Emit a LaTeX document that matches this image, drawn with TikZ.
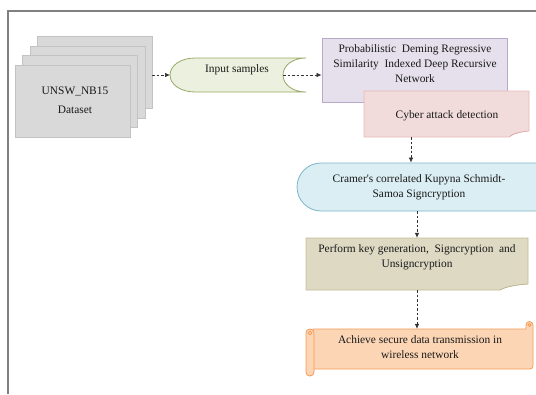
\documentclass[tikz,border=0pt]{standalone}
\usepackage{fontspec}
\setmainfont{Liberation Serif}
\usetikzlibrary{arrows.meta}

\definecolor{frameC}{HTML}{808080}
\definecolor{dsFill}{HTML}{D9D9D9}
\definecolor{dsLine}{HTML}{C3C3C3}
\definecolor{inFill}{HTML}{EBF1DE}
\definecolor{inLine}{HTML}{98A868}
\definecolor{pdFill}{HTML}{E5E0EC}
\definecolor{pdLine}{HTML}{B7A8CC}
\definecolor{caFill}{HTML}{F2DCDB}
\definecolor{caLine}{HTML}{E6B9B8}
\definecolor{caFold}{HTML}{D9A2A1}
\definecolor{crFill}{HTML}{DBEEF4}
\definecolor{crLine}{HTML}{7CB5C9}
\definecolor{peFill}{HTML}{DDD9C3}
\definecolor{peLine}{HTML}{C4BD97}
\definecolor{peFold}{HTML}{B5AD88}
\definecolor{scFill}{HTML}{FCD5B5}
\definecolor{scLine}{HTML}{F59A55}

\tikzset{
  txt/.style={align=center, inner sep=0pt, text=black!90,
              font=\fontsize{11.4}{15}\selectfont},
  dsbox/.style={draw=dsLine, fill=dsFill, minimum width=115pt,
                minimum height=72pt, inner sep=0pt},
  flow/.style={draw=black!80, dashed, dash pattern=on 2.5pt off 2pt,
               line width=0.7pt, -{Latex[length=5pt,width=4.5pt]}}
}

\begin{document}
\begin{tikzpicture}[x=1pt,y=-1pt]
\useasboundingbox (0,0) rectangle (536,394);
\clip (0,0) rectangle (536,394);

% frame lines
\draw[frameC, line width=1.1pt] (8,394) -- (8,11) -- (536,11);

% stacked dataset sheets, back to front
\node[dsbox] (ds3) at (94.5,72) {};
\node[dsbox] (ds2) at (87.2,81.7) {};
\node[dsbox] (ds1) at (79.8,91.3) {};
\node[dsbox] (ds0) at (72.5,101) {};
\node[txt] (dsT) at (75,100.5) {UNSW\_NB15\\[4pt]Dataset};

% stored-data shape for the input samples
\draw[inLine, fill=inFill, line width=0.8pt]
  (195,58) -- (306,58)
  .. controls (292,58) and (283,66) .. (283,75)
  .. controls (283,84) and (292,92) .. (306,92)
  -- (195,92)
  .. controls (180,92) and (170,84) .. (170,75)
  .. controls (170,66) and (180,58) .. (195,58) -- cycle;
\coordinate (inpL) at (170,75);
\coordinate (inpR) at (283,75);
\node[txt] (inp) at (237,70) {Input samples};

% deep recursive network box
\node[draw=pdLine, fill=pdFill, line width=0.8pt, minimum width=185pt,
      minimum height=64pt, inner sep=0pt] (pdr) at (414.5,70) {};
\node[txt] (pdrT) at (415,64)
  {Probabilistic\ \ Deming Regressive\\Similarity\ \ Indexed Deep Recursive\\Network};

% cyber attack detection note with curled corner
\draw[caLine, fill=caFill, line width=0.8pt]
  (364,91) -- (529,91) -- (529,131)
  .. controls (518,132) and (512,134) .. (509,137) -- (364,137) -- cycle;
\fill[caFold] (529,131) .. controls (518,132) and (512,134) .. (509,137)
  .. controls (515,133) and (522,132) .. (529,131) -- cycle;
\node[inner sep=0pt, minimum width=165pt, minimum height=46pt] (cad) at (446.5,114) {};
\node[txt] (cadT) at (447,116) {Cyber attack detection};

% signcryption terminator, running past the right edge
\node[draw=crLine, fill=crFill, line width=0.8pt, rounded corners=24pt,
      minimum width=263pt, minimum height=48pt, inner sep=0pt] (cram) at (428.5,187) {};
\node[txt] (cramT) at (419,187.5) {Cramer\textquotesingle s correlated Kupyna Schmidt-\\Samoa Signcryption};

% key generation note with curled corner
\draw[peLine, fill=peFill, line width=0.8pt]
  (306,238) -- (528,238) -- (528,284)
  .. controls (514,285) and (505,287) .. (500,290) -- (306,290) -- cycle;
\fill[peFold] (528,284) .. controls (514,285) and (505,287) .. (500,290)
  .. controls (508,286) and (518,285) .. (528,284) -- cycle;
\node[inner sep=0pt, minimum width=222pt, minimum height=52pt] (perf) at (417,264) {};
\node[txt] (perfT) at (417,257.5) {Perform key generation,\ \ Signcryption\ \ and\\Unsigncryption};

% horizontal scroll for the final step
\draw[scLine, fill=scFill, line width=0.8pt]
  (313,329) -- (526,329) -- (526,325) arc[start angle=180, end angle=360, x radius=3.5pt, y radius=-3.5pt]
  -- (533,366) arc[start angle=0, end angle=90, x radius=3pt, y radius=-3pt]
  -- (313,369) -- cycle;
\draw[scLine, fill=scFill!85!scLine, line width=0.8pt] (529.5,325) circle[radius=1.6pt];
\draw[scLine, fill=scFill, line width=0.8pt, rounded corners=3.8pt]
  (306,329) rectangle (314,376);
\draw[scLine, line width=0.7pt] (310,333) circle[radius=1.8pt];
\node[inner sep=0pt, minimum width=227pt, minimum height=40pt] (scr) at (419.5,349) {};
\node[txt] (scrT) at (420,347.5) {Achieve secure data transmission in\\wireless network};

% connectors
\coordinate (col1) at (411,0);
\draw[flow] (ds3.east |- inpL) -- (inpL);
\draw[flow] (inpR) -- (inpR -| pdr.west);
\draw[flow] (col1 |- cad.south) -- (col1 |- cram.north);
\draw[flow] (perf.north |- cram.south) -- (perf.north);
\draw[flow] (perf.south) -- (perf.south |- scr.north);
\end{tikzpicture}
\end{document}
